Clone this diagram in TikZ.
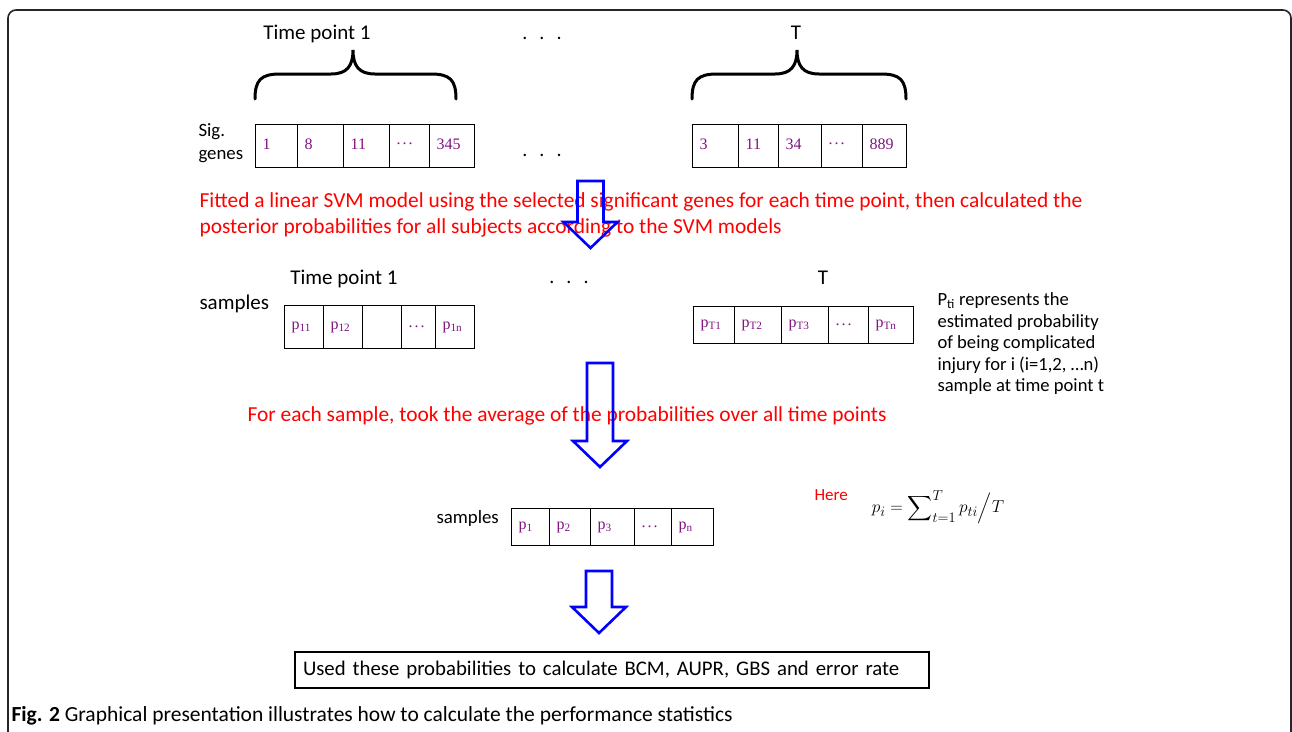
\documentclass[tikz,border=0pt]{standalone}
\usepackage{amsmath}
\usepackage{fontspec}
\setmainfont{Carlito}
\newfontfamily\cellfont{Liberation Serif}
\usetikzlibrary{positioning}

\definecolor{cellpurple}{RGB}{128,20,128}

\tikzset{
  cell/.style={draw, line width=1.2pt, inner xsep=7pt, inner ysep=0pt, anchor=north west,
    align=left, text=cellpurple, font=\cellfont\fontsize{16}{18}\selectfont},
  headtext/.style={font=\fontsize{21}{24}\selectfont},
  sidetext/.style={font=\fontsize{18.8}{23}\selectfont, align=left, anchor=west},
  rednote/.style={text=red, font=\fontsize{21.4}{26}\selectfont, align=left, anchor=west},
  dots/.style={font=\fontsize{20}{24}\selectfont},
  flowarrow/.style={draw=blue, line width=2.6pt, line join=miter},
  bracepath/.style={line width=3pt, line cap=round}
}

% block arrow: centre x, top, head base, tip
\newcommand{\blockarrow}[4]{%
  \draw[flowarrow] (#1-13,#2) -- (#1+13,#2) -- (#1+13,#3) -- (#1+27,#3) -- (#1,#4)
    -- (#1-27,#3) -- (#1-13,#3) -- cycle;}
\newcommand{\celldots}{.\kern2pt.\kern2pt.}

\begin{document}
\begin{tikzpicture}[x=1pt,y=-1pt]
\useasboundingbox (0,0) rectangle (1292,731);
\draw[line width=1.6pt, black!85, rounded corners=8pt] (8,745) -- (8,10) -- (1291,10) -- (1291,745);

% top row: significant genes per time point
\node[headtext] (tp1) at (317,34) {Time point 1};
\node[headtext] (tpT) at (796,33) {T};
\node[dots] (dotsA) at (542,38) {.\hspace{12pt}.\hspace{12pt}.};
\foreach \a/\m/\b in {255/353/456, 692/797/906}
  \draw[bracepath] (\a,99) .. controls (\a,80) and (\a+6,74) .. (\a+25,74) -- (\m-22,74)
    .. controls (\m-6,74) and (\m,66) .. (\m,50) .. controls (\m,66) and (\m+6,74) .. (\m+22,74)
    -- (\b-25,74) .. controls (\b-6,74) and (\b,80) .. (\b,99);
\node[sidetext] (sig) at (195,143) {Sig.\\genes};
\foreach \l/\r/\t [count=\i] in {255/297/1, 297/343/8, 343/389/11, 389/429/\celldots, 429/474/345}
  {\pgfmathsetmacro\w{\r-\l-14}
   \node[cell, text width=\w pt, minimum height=43pt] (ga\i) at (\l,124) {\raisebox{4pt}{\t}};}
\foreach \l/\r/\t [count=\i] in {692/738/3, 738/778/11, 778/821/34, 821/862/\celldots, 862/906/889}
  {\pgfmathsetmacro\w{\r-\l-14}
   \node[cell, text width=\w pt, minimum height=43pt] (gb\i) at (\l,124) {\raisebox{4pt}{\t}};}
\node[dots] (dotsB) at (542,155) {.\hspace{12pt}.\hspace{12pt}.};

\node[rednote] (fit) at (196,215) {Fitted a linear SVM model using the selected significant genes for each time point, then calculated the\\posterior probabilities for all subjects according to the SVM models};
\blockarrow{590.5}{181}{222}{248}

% second row: probabilities per sample
\node[headtext] (tp1b) at (344,279) {Time point 1};
\node[headtext] (tpTb) at (823,278) {T};
\node[dots] (dotsC) at (569,282) {.\hspace{12pt}.\hspace{12pt}.};
\node[headtext, anchor=west] (smpA) at (196,304) {samples};
\foreach \l/\r/\t [count=\i] in {284/323/p\textsubscript{11}, 323/362/p\textsubscript{12}, 362/401/{}, 401/435/\celldots, 435/474/p\textsubscript{1n}}
  {\pgfmathsetmacro\w{\r-\l-14}
   \node[cell, text width=\w pt, minimum height=43pt] (pa\i) at (\l,305) {\t};}
\foreach \l/\r/\t [count=\i] in {693/734/p\textsubscript{T1}, 734/781/p\textsubscript{T2}, 781/828/p\textsubscript{T3}, 828/868/\celldots, 868/913/p\textsubscript{Tn}}
  {\pgfmathsetmacro\w{\r-\l-14}
   \node[cell, text width=\w pt, minimum height=37pt] (pb\i) at (\l,306) {\t};}
\node[sidetext, font=\fontsize{18.6}{21.6}\selectfont, anchor=north west] (expl) at (934,289)
  {P\textsubscript{ti} represents the\\estimated probability\\of being complicated\\injury for i (i=1,2, …n)\\sample at time point t};

\node[rednote] (avg) at (244,416) {For each sample, took the average of the probabilities over all time points};
\blockarrow{600}{363}{441}{467}

% third row: averaged probabilities
\node[sidetext] (smpB) at (433,518) {samples};
\foreach \l/\r/\t [count=\i] in {511/549/p\textsubscript{1}, 549/590/p\textsubscript{2}, 590/634/p\textsubscript{3}, 634/671/\celldots, 671/713/p\textsubscript{n}}
  {\pgfmathsetmacro\w{\r-\l-14}
   \node[cell, text width=\w pt, minimum height=37pt] (pc\i) at (\l,508) {\t};}
\node[rednote, font=\fontsize{17}{20}\selectfont] (here) at (811,495) {Here};
\node[font=\fontsize{19}{24}\selectfont] (formula) at (938,507)
  {$\displaystyle p_i = \sum\nolimits_{t=1}^{T} p_{ti}\Big/T$};
\blockarrow{599}{571}{607}{633}

\node[draw, line width=1.5pt, text width=618pt, inner xsep=8pt, minimum height=36pt, align=left,
  font=\fontsize{20.8}{22}\selectfont] (final) at (612,670)
  {Used these probabilities to calculate BCM, AUPR, GBS and error rate};

\node[anchor=west, font=\fontsize{21.5}{24}\selectfont] (caption) at (8,716)
  {\textbf{Fig. 2} Graphical presentation illustrates how to calculate the performance statistics};
\end{tikzpicture}
\end{document}
